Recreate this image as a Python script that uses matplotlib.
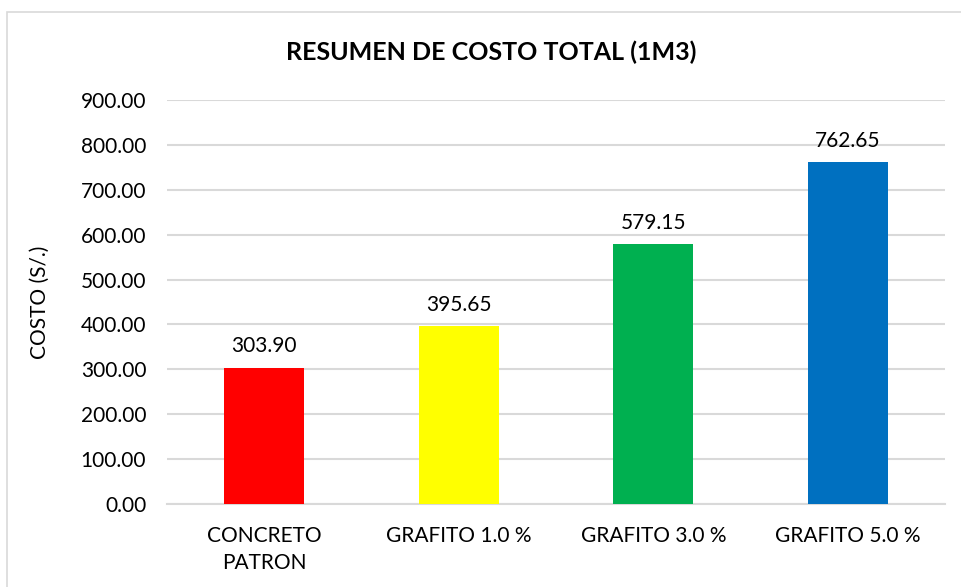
import matplotlib
matplotlib.use("Agg")
import matplotlib.pyplot as plt
from matplotlib.patches import Rectangle

categories = ["CONCRETO\nPATRON", "GRAFITO 1.0 %", "GRAFITO 3.0 %", "GRAFITO 5.0 %"]
costs = [303.90, 395.65, 579.15, 762.65]
bar_colors = ["#FF0000", "#FFFF00", "#00B050", "#0070C0"]
y_ticks = [0, 100, 200, 300, 400, 500, 600, 700, 800, 900]

plt.rcParams["font.family"] = ["Lato", "DejaVu Sans"]

fig = plt.figure(figsize=(9.61, 5.87), dpi=100)
ax = fig.add_axes([0.1738, 0.1414, 0.8096, 0.6882])

x = range(len(categories))
bars = ax.bar(x, costs, width=0.41, color=bar_colors, zorder=3)

# value labels above each bar
for rect, val in zip(bars, costs):
    ax.annotate(f"{val:.2f}", (rect.get_x() + rect.get_width() / 2, val),
                xytext=(0, 8), textcoords="offset points",
                ha="center", va="bottom", fontsize=15, color="#000000")

ax.set_xlim(-0.5, len(categories) - 0.5)
ax.set_ylim(0, 900)
ax.set_yticks(y_ticks)
ax.set_yticklabels([f"{t:.2f}" for t in y_ticks], fontsize=15)
ax.set_xticks(list(x))
ax.set_xticklabels(categories, fontsize=15, linespacing=1.45)
ax.tick_params(axis="both", length=0, colors="#000000")
ax.tick_params(axis="y", pad=15)
ax.tick_params(axis="x", pad=16)

ax.grid(axis="y", color="#D9D9D9", linewidth=1.5, zorder=0)
for side in ["top", "right", "left"]:
    ax.spines[side].set_visible(False)
ax.spines["bottom"].set_color("#D9D9D9")
ax.spines["bottom"].set_linewidth(1.5)

ax.set_ylabel("COSTO (S/.)", fontsize=15, labelpad=22)
fig.text(0.511, 0.911, "RESUMEN DE COSTO TOTAL (1M3)", ha="center", va="center",
         fontsize=18, fontweight="bold")

# chart border
fig.patches.append(Rectangle((7 / 961, -0.01), 1.0, 1 - 12 / 587 + 0.01,
                             transform=fig.transFigure, fill=False,
                             edgecolor="#D9D9D9", linewidth=1.2))

fig.savefig("out.png", dpi=100)
